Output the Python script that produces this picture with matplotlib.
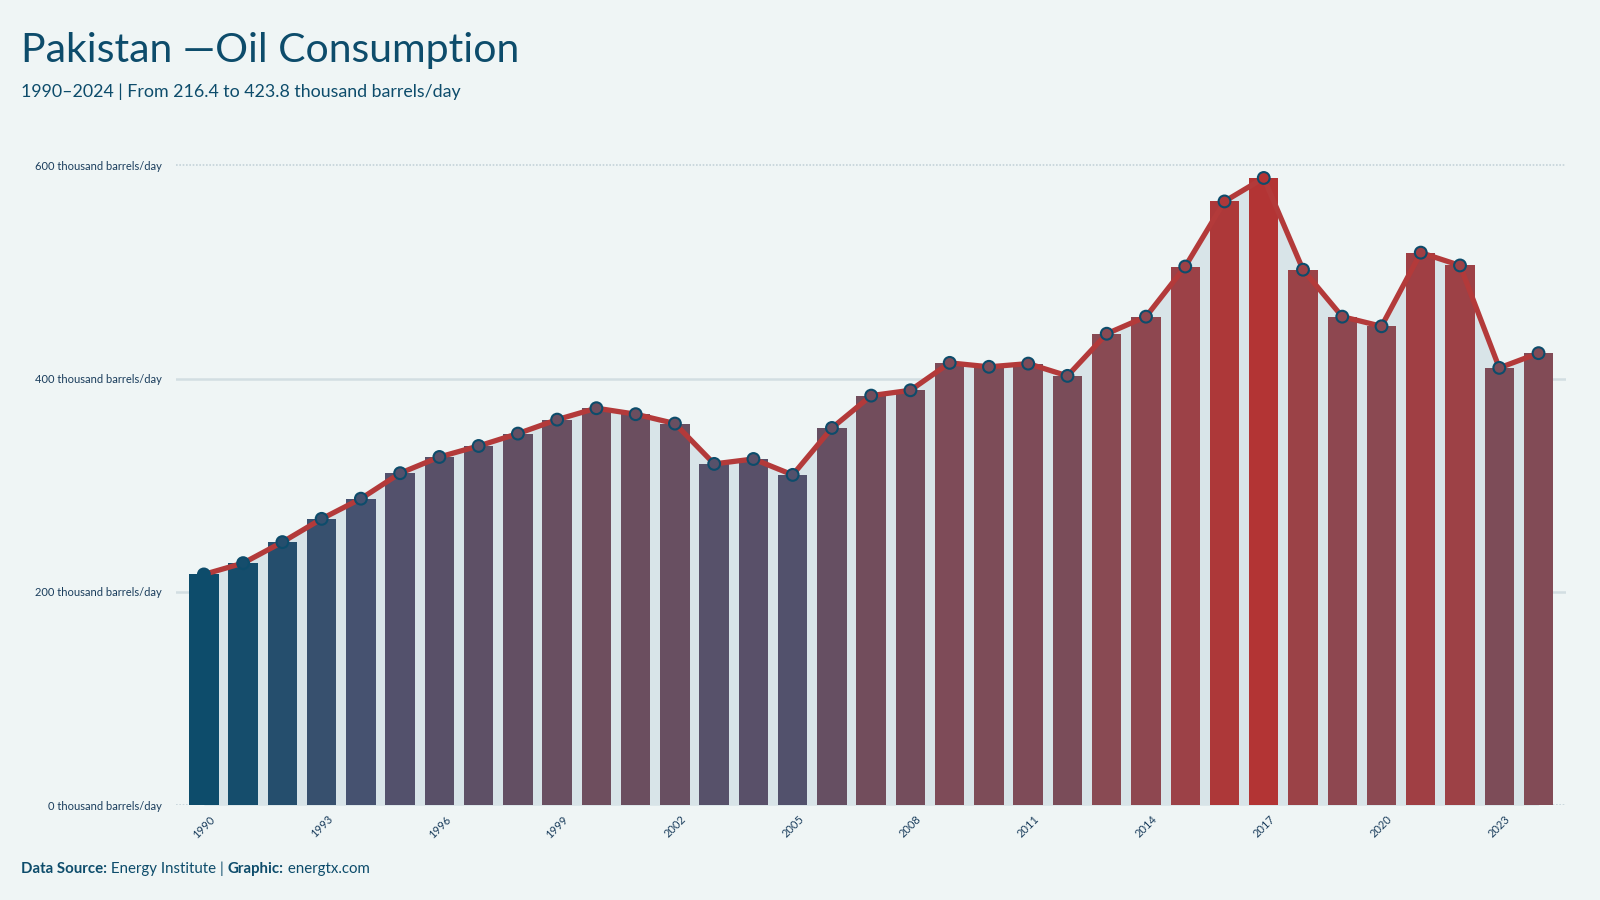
import numpy as np
import matplotlib
matplotlib.use("Agg")
import matplotlib.pyplot as plt
from matplotlib.colors import LinearSegmentedColormap, Normalize

years = list(range(1990, 2025))
consumption = [216.4, 227.0, 246.7, 268.5, 287.4, 311.3, 326.5, 336.8, 348.4, 361.5,
               372.2, 366.6, 357.8, 320.0, 324.6, 309.7, 353.7, 384.0, 389.0, 414.7,
               411.0, 414.0, 402.5, 442.0, 458.0, 505.0, 566.0, 588.0, 502.0, 458.0,
               449.0, 518.0, 506.0, 410.0, 423.8]
tick_years = [1990, 1993, 1996, 1999, 2002, 2005, 2008, 2011, 2014, 2017, 2020, 2023]
y_ticks = [0, 200, 400, 600]

BG = "#eff5f5"
NAVY = "#0d4c6b"
RED = "#b33a3a"
FONT = "Lato"

plt.rcParams["font.family"] = [FONT, "DejaVu Sans"]

cmap = LinearSegmentedColormap.from_list(
    "oil", [(0.0, "#0d4c6b"), (0.2, "#4a5270"), (0.42, "#6e4e5e"),
            (0.6, "#884a54"), (0.8, "#9f4045"), (1.0, "#b33434")])
norm = Normalize(min(consumption), max(consumption))
colors = [cmap(norm(v)) for v in consumption]

fig = plt.figure(figsize=(16, 9), dpi=100, facecolor=BG)
ax = fig.add_axes([0.11, 0.1052, 0.869, 0.735])
ax.set_facecolor(BG)

x = np.arange(len(years))

# area under the line
ax.fill_between(x, consumption, 0, color="#d8e4e8", zorder=1, linewidth=0)
ax.bar(x, consumption, width=0.75, color=colors, zorder=2)
ax.plot(x, consumption, color=RED, linewidth=3.8, zorder=3, solid_capstyle="round")
ax.scatter(x, consumption, s=72, c=colors, edgecolors=NAVY, linewidths=1.5, zorder=4)

# grid
for v in y_ticks:
    if v in (0, 600):
        ax.axhline(v, color="#c4d3d9", linewidth=1.2, linestyle=(0, (1, 1)), zorder=0)
    else:
        ax.axhline(v, color="#d2dee2", linewidth=1.8, zorder=0)

ax.set_xlim(-0.71, 34.71)
ax.set_ylim(0, 620)
ax.set_yticks(y_ticks)
ax.set_yticklabels([f"{v} thousand barrels/day" for v in y_ticks], fontsize=8, color="#1a3d5c")
ax.set_xticks([years.index(y) for y in tick_years])
ax.set_xticklabels([str(y) for y in tick_years], rotation=45, fontsize=8, color="#1a3d5c",
                   ha="center", va="top")
ax.tick_params(axis="both", length=0, pad=10)
ax.tick_params(axis="x", pad=6)
for s in ax.spines.values():
    s.set_visible(False)

fig.text(0.013, 0.944, "Pakistan \u2014Oil Consumption", fontsize=29.5, color=NAVY, va="center")
fig.text(0.013, 0.898, "1990\u20132024 | From 216.4 to 423.8 thousand barrels/day",
         fontsize=12.8, color=NAVY, va="center")

# footer with bold parts
renderer = fig.canvas.get_renderer()
parts = [("Data Source:", "bold"), (" Energy Institute | ", "normal"),
         ("Graphic:", "bold"), (" energtx.com", "normal")]
xpos = 21
for txt, weight in parts:
    t = fig.text(xpos / 1600, 1 - 869 / 900, txt, fontsize=10.8, color=NAVY,
                 fontweight=weight, va="center")
    bb = t.get_window_extent(renderer=renderer)
    xpos += bb.width

fig.savefig("out.png", dpi=100, facecolor=BG)
